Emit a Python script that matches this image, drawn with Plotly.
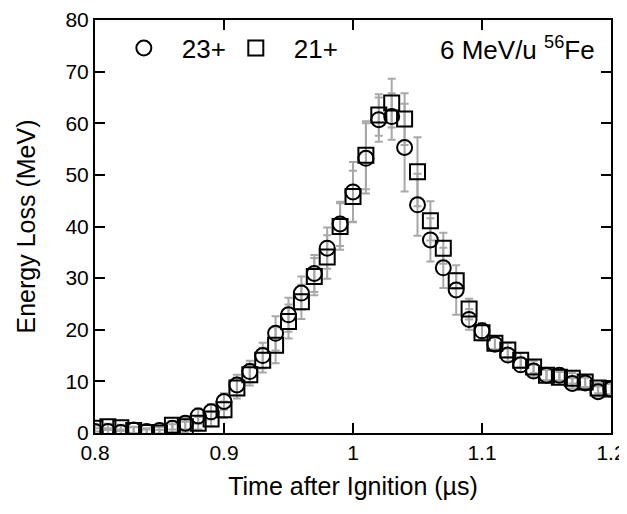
import plotly.graph_objects as go

# time after ignition (us)
t = [0.80, 0.81, 0.82, 0.83, 0.84, 0.85, 0.86, 0.87, 0.88, 0.89,
     0.90, 0.91, 0.92, 0.93, 0.94, 0.95, 0.96, 0.97, 0.98, 0.99,
     1.00, 1.01, 1.02, 1.03, 1.04, 1.05, 1.06, 1.07, 1.08, 1.09,
     1.10, 1.11, 1.12, 1.13, 1.14, 1.15, 1.16, 1.17, 1.18, 1.19, 1.20]

# 23+ charge state (circles)
loss_23 = [0.3, 0.3, 0.1, 0.6, 0.3, 0.5, 0.9, 1.9, 3.3, 4.1,
           6.1, 9.3, 11.9, 15.0, 19.3, 22.9, 27.1, 30.9, 35.8, 40.5,
           46.7, 53.2, 60.7, 61.3, 55.3, 44.2, 37.4, 32.0, 27.7, 22.0,
           19.8, 17.2, 15.1, 13.2, 12.0, 11.2, 11.2, 9.6, 9.7, 8.0, 8.5]
err_23 = [0.6, 0.6, 0.6, 0.6, 0.6, 0.6, 0.8, 1.2, 1.5, 1.5,
          1.6, 2.0, 2.1, 2.5, 3.3, 3.3, 3.2, 3.6, 4.0, 4.3,
          5.8, 6.8, 4.3, 4.5, 8.5, 6.0, 4.2, 3.9, 4.8, 2.0,
          1.5, 1.2, 1.2, 1.4, 1.2, 1.0, 1.0, 1.0, 1.0, 1.0, 1.0]

# 21+ charge state (squares)
loss_21 = [0.9, 1.2, 1.0, 0.5, 0.1, 0.0, 1.5, 1.2, 1.9, 2.7,
           4.5, 8.7, 11.3, 14.1, 17.0, 21.6, 25.4, 30.3, 34.1, 40.0,
           45.8, 53.8, 61.6, 63.9, 60.8, 50.6, 41.1, 35.8, 29.5, 24.0,
           19.4, 17.4, 16.1, 14.1, 12.8, 11.2, 10.8, 10.6, 9.9, 8.7, 8.5]
err_21 = [0.6, 0.6, 0.6, 0.6, 0.6, 0.6, 0.8, 1.0, 1.2, 1.4,
          1.6, 2.0, 2.1, 2.4, 3.5, 3.3, 3.3, 3.6, 4.2, 4.5,
          5.0, 6.6, 4.0, 4.7, 5.0, 6.7, 3.8, 3.0, 1.5, 2.0,
          1.5, 1.2, 1.4, 1.4, 1.2, 1.0, 1.0, 1.0, 1.0, 1.0, 1.0]

ebar = dict(type="data", thickness=2, width=4, color="#a8a8a8")

fig = go.Figure()

# error bars first so every marker sits on top
for y, e in [(loss_23, err_23), (loss_21, err_21)]:
    fig.add_trace(go.Scatter(x=t, y=y, mode="markers", showlegend=False,
                             hoverinfo="skip", marker=dict(opacity=0),
                             error_y=dict(array=e, **ebar)))

fig.add_trace(go.Scatter(
    x=t, y=loss_23, mode="markers", name="23+", legend="legend",
    marker=dict(symbol="circle-open", size=15, color="black",
                line=dict(width=2, color="black"))))
fig.add_trace(go.Scatter(
    x=t, y=loss_21, mode="markers", name="21+", legend="legend2",
    marker=dict(symbol="square-open", size=15, color="black",
                line=dict(width=2, color="black"))))

axis = dict(showgrid=False, zeroline=False, showline=True, linecolor="black",
            linewidth=2, mirror="ticks", ticks="inside", ticklen=10,
            tickwidth=2, tickcolor="black", automargin=False,
            tickfont=dict(size=21, color="black"))

leg = dict(orientation="h", y=0.932, xanchor="left", yanchor="middle",
           font=dict(size=26), itemwidth=66, bgcolor="rgba(0,0,0,0)")

# the page body keeps its 8px default margin, so the figure is 8px smaller
fig.update_layout(
    width=619, height=498,
    margin=dict(l=87, r=16, t=12, b=73),
    paper_bgcolor="white", plot_bgcolor="white",
    font=dict(family="Liberation Sans, Arial, sans-serif", color="black"),
    xaxis=dict(range=[0.8, 1.2], tickvals=[0.8, 0.9, 1.0, 1.1, 1.2],
               ticktext=["0.8", "0.9", "1", "1.1", "1.2"],
               title=dict(text="Time after Ignition (µs)", font=dict(size=25),
                          standoff=14), **axis),
    yaxis=dict(range=[0, 80], dtick=10,
               title=dict(text="Energy Loss (MeV)", font=dict(size=25),
                          standoff=23), **axis),
    legend=dict(x=0.021, **leg),
    legend2=dict(x=0.238, **leg),
    annotations=[dict(text="6 MeV/u <sup>56</sup>Fe", xref="paper",
                      yref="paper", x=0.972, y=0.932, xanchor="right",
                      yanchor="middle", showarrow=False,
                      font=dict(size=26))],
)

fig.write_html("out.html")
